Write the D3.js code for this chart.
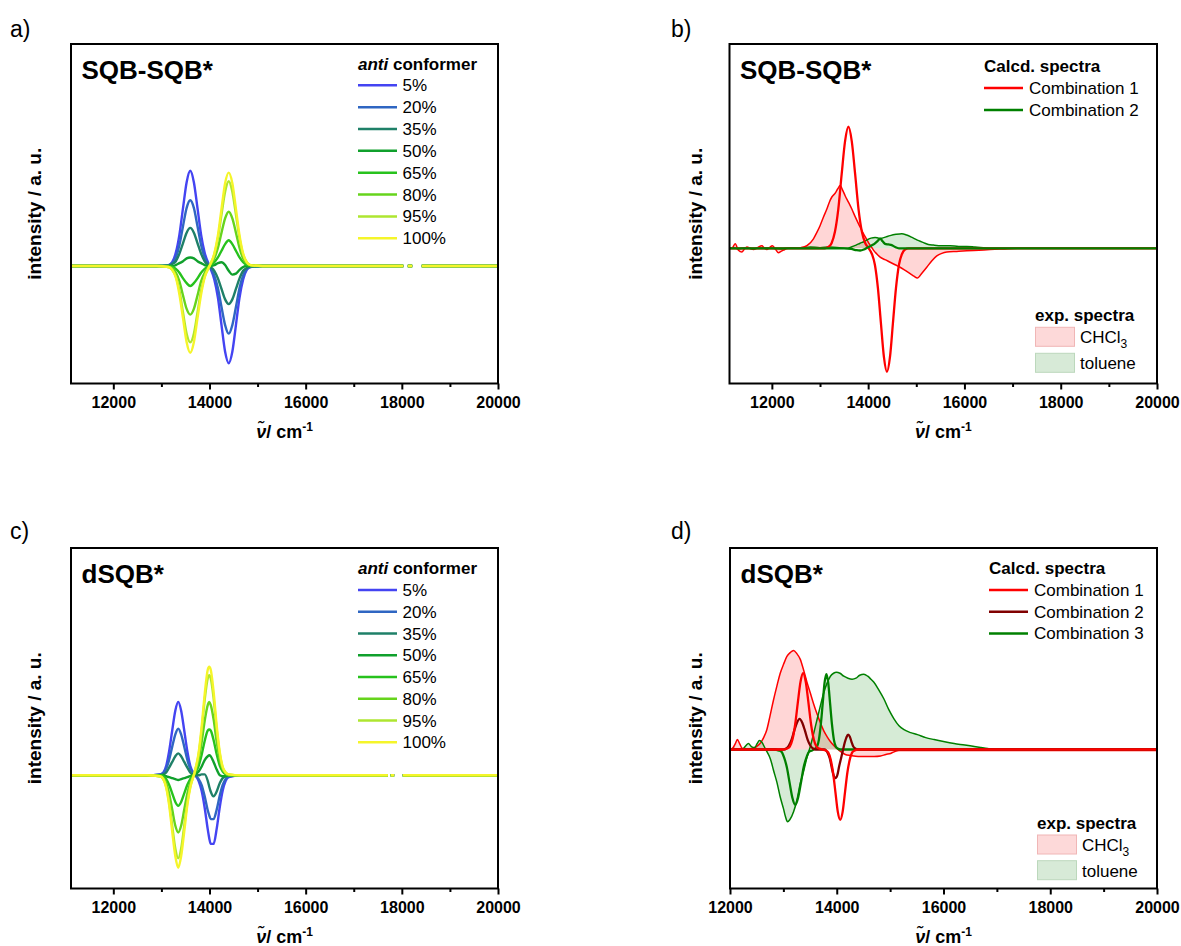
<!DOCTYPE html>
<html>
<head>
<meta charset="utf-8">
<script src="https://cdn.jsdelivr.net/npm/d3@7"></script>
<style>
  body { margin: 0; background: #fff; }
  svg { display: block; }
  text { font-family: "Liberation Sans", Arial, Helvetica, sans-serif; fill: #000; }
</style>
</head>
<body>
<svg id="fig" width="1181" height="946"></svg>
<script>
// ---------- shared axis ticks ----------
const xMajorTicks = [12000, 14000, 16000, 18000, 20000];
const xMinorTicks = [13000, 15000, 17000, 19000];

// ---------- conformer mixtures ----------
const conformerLabels = ["5%", "20%", "35%", "50%", "65%", "80%", "95%", "100%"];
const conformerColors = ["#4444f2", "#2f66c2", "#1f8068", "#10a02c", "#27c21d", "#66d41c", "#aee630", "#f5f52a"];

// SQB-SQB* simulated spectra (null = no data)
const nuSQB = [11120, 12900, 13150, 13225, 13300, 13375, 13450, 13525, 13600, 13675, 13750, 13825, 13900, 14000,
  14100, 14175, 14250, 14325, 14400, 14475, 14550, 14625, 14700, 14775, 14850, 15100, 18030, 18080, 18125, 18215, 18300, 18415, 20000];
const sqb05 = [0, 0, 0.01, 0.04, 0.14, 0.33, 0.61, 0.88, 1.00, 0.88, 0.61, 0.33, 0.14, 0.00, -0.14, -0.33, -0.62, -0.90, -1.02, -0.90, -0.62, -0.33, -0.14, -0.04, -0.01, 0, 0, null, 0, 0, null, 0, 0];
const sqb20 = [0, 0, 0.01, 0.03, 0.09, 0.22, 0.42, 0.61, 0.69, 0.61, 0.42, 0.22, 0.09, 0.00, -0.10, -0.23, -0.43, -0.62, -0.71, -0.62, -0.43, -0.23, -0.10, -0.03, -0.01, 0, 0, null, 0, 0, null, 0, 0];
const sqb35 = [0, 0, 0.00, 0.02, 0.05, 0.13, 0.24, 0.35, 0.40, 0.35, 0.24, 0.13, 0.05, 0.00, -0.05, -0.13, -0.24, -0.35, -0.40, -0.35, -0.24, -0.13, -0.05, -0.02, 0.00, 0, 0, null, 0, 0, null, 0, 0];
const sqb50 = [0, 0, 0.00, 0.00, 0.01, 0.03, 0.05, 0.08, 0.09, 0.08, 0.05, 0.03, 0.01, 0.00, 0.01, 0.03, 0.04, 0.01, -0.05, -0.09, -0.08, -0.04, -0.01, 0.00, 0.00, 0, 0, null, 0, 0, null, 0, 0];
const sqb65 = [0, 0, 0.00, -0.01, -0.03, -0.07, -0.13, -0.18, -0.21, -0.18, -0.13, -0.07, -0.03, 0.00, 0.04, 0.09, 0.16, 0.23, 0.27, 0.23, 0.16, 0.09, 0.04, 0.01, 0.00, 0, 0, null, 0, 0, null, 0, 0];
const sqb80 = [0, 0, -0.01, -0.02, -0.07, -0.16, -0.31, -0.45, -0.51, -0.45, -0.31, -0.16, -0.07, 0.00, 0.08, 0.19, 0.35, 0.50, 0.57, 0.50, 0.35, 0.19, 0.08, 0.03, 0.01, 0, 0, null, 0, 0, null, 0, 0];
const sqb95 = [0, 0, -0.01, -0.04, -0.11, -0.26, -0.49, -0.71, -0.80, -0.71, -0.49, -0.26, -0.11, 0.00, 0.12, 0.29, 0.54, 0.78, 0.89, 0.78, 0.54, 0.29, 0.12, 0.04, 0.01, 0, 0, null, 0, 0, null, 0, 0];
const sqb100 = [0, 0, -0.01, -0.04, -0.12, -0.30, -0.55, -0.80, -0.91, -0.80, -0.55, -0.30, -0.12, 0.00, 0.13, 0.32, 0.60, 0.87, 0.98, 0.87, 0.60, 0.32, 0.13, 0.04, 0.01, 0, 0, null, 0, 0, null, 0, 0];

// dSQB* simulated spectra
const nuDSQB = [11120, 12700, 12975, 13040, 13100, 13160, 13225, 13290, 13350, 13410, 13475, 13540, 13600, 13690,
  13775, 13835, 13900, 13965, 13995, 14025, 14085, 14150, 14215, 14275, 14335, 14400, 14650, 17710, 17740, 17770, 17840, 17930, 18020, 20000];
const dsqb05 = [0, 0, 0.01, 0.03, 0.10, 0.25, 0.47, 0.68, 0.77, 0.68, 0.47, 0.25, 0.10, 0.01, -0.06, -0.16, -0.34, -0.57, -0.66, -0.72, -0.72, -0.56, -0.33, -0.16, -0.06, -0.02, 0, 0, null, 0, 0, null, 0, 0];
const dsqb20 = [0, 0, 0.01, 0.02, 0.07, 0.16, 0.30, 0.43, 0.49, 0.43, 0.30, 0.16, 0.07, 0.01, -0.04, -0.10, -0.22, -0.37, -0.42, -0.46, -0.46, -0.36, -0.21, -0.10, -0.04, -0.01, 0, 0, null, 0, 0, null, 0, 0];
const dsqb35 = [0, 0, 0.00, 0.01, 0.03, 0.08, 0.14, 0.20, 0.23, 0.20, 0.14, 0.08, 0.03, 0.00, 0.00, 0.01, 0.01, -0.06, -0.12, -0.17, -0.22, -0.17, -0.08, -0.03, -0.01, 0.00, 0, 0, null, 0, 0, null, 0, 0];
const dsqb50 = [0, 0, 0.00, 0.00, -0.01, -0.02, -0.03, -0.04, -0.05, -0.04, -0.03, -0.02, -0.01, 0.01, 0.04, 0.09, 0.16, 0.20, 0.21, 0.20, 0.14, 0.06, 0.00, -0.01, -0.01, 0.00, 0, 0, null, 0, 0, null, 0, 0];
const dsqb65 = [0, 0, 0.00, -0.01, -0.04, -0.10, -0.19, -0.28, -0.32, -0.28, -0.19, -0.10, -0.04, 0.02, 0.10, 0.21, 0.36, 0.47, 0.48, 0.47, 0.37, 0.22, 0.10, 0.04, 0.01, 0.00, 0, 0, null, 0, 0, null, 0, 0];
const dsqb80 = [0, 0, -0.01, -0.03, -0.08, -0.19, -0.36, -0.53, -0.60, -0.53, -0.36, -0.19, -0.08, 0.02, 0.16, 0.34, 0.57, 0.74, 0.77, 0.74, 0.59, 0.35, 0.16, 0.06, 0.02, 0.00, 0, 0, null, 0, 0, null, 0, 0];
const dsqb95 = [0, 0, -0.01, -0.04, -0.12, -0.28, -0.53, -0.77, -0.87, -0.77, -0.53, -0.28, -0.12, 0.03, 0.22, 0.46, 0.79, 1.02, 1.05, 1.02, 0.81, 0.48, 0.22, 0.08, 0.03, 0.01, 0, 0, null, 0, 0, null, 0, 0];
const dsqb100 = [0, 0, -0.01, -0.04, -0.13, -0.31, -0.59, -0.85, -0.97, -0.85, -0.59, -0.31, -0.13, 0.03, 0.24, 0.50, 0.85, 1.11, 1.14, 1.11, 0.88, 0.52, 0.24, 0.09, 0.03, 0.01, 0, 0, null, 0, 0, null, 0, 0];

// ---------- SQB-SQB*: experimental and calculated ----------
const expChcl3SQB = [[11120,0],[11169,0],[11238,0.07],[11306,-0.03],[11377,-0.06],[11430,-0.01],[11481,0.02],[11550,0.0],
  [11618,-0.02],[11700,0.01],[11792,0.04],[11850,0.0],[11896,-0.02],[11950,0.01],[12012,0.04],[12080,-0.02],[12137,-0.07],
  [12190,-0.05],[12241,-0.03],[12340,0.0],[12449,0.0],[12600,0.01],[12727,0.04],[12864,0.15],[12935,0.25],[13003,0.36],
  [13070,0.49],[13142,0.62],[13200,0.74],[13246,0.81],[13314,0.87],[13370,0.94],[13418,0.99],[13470,0.92],[13522,0.83],
  [13590,0.73],[13661,0.62],[13730,0.50],[13798,0.39],[13850,0.31],[13902,0.23],[13955,0.16],[14006,0.09],[14060,0.03],
  [14110,-0.03],[14180,-0.09],[14249,-0.14],[14350,-0.18],[14457,-0.22],[14560,-0.26],[14664,-0.30],[14770,-0.35],
  [14872,-0.40],[14950,-0.44],[15023,-0.47],[15120,-0.39],[15218,-0.30],[15320,-0.20],[15426,-0.12],[15530,-0.08],
  [15634,-0.06],[15840,-0.05],[16049,-0.04],[16300,-0.03],[16533,-0.02],[16800,-0.01],[17100,0],[20000,0]];
const expTolueneSQB = [[11120,0],[11200,0.01],[11300,-0.01],[11450,0.01],[11600,-0.01],[11800,0.01],[12000,0.0],
  [12200,-0.01],[12400,0.01],[12600,0.0],[12800,0.02],[13000,0.01],[13200,0.02],[13400,0.01],[13550,0.0],[13650,0.02],
  [13750,0.05],[13833,0.08],[13900,0.10],[13972,0.13],[14060,0.16],[14145,0.17],[14220,0.16],[14284,0.16],[14370,0.18],
  [14457,0.20],[14580,0.22],[14699,0.23],[14800,0.21],[14941,0.16],[15050,0.12],[15148,0.09],[15250,0.06],[15356,0.05],
  [15530,0.04],[15702,0.04],[15880,0.03],[16049,0.03],[16220,0.02],[16394,0.01],[16600,0.0],[20000,0]];
const calc1SQB = [[11120,0],[13100,0],[13170,0.02],[13240,0.08],[13310,0.26],[13380,0.62],[13450,1.17],[13520,1.69],
  [13590,1.92],[13660,1.69],[13730,1.17],[13800,0.62],[13870,0.26],[13940,0.08],[14012,0],[14078,-0.09],[14140,-0.26],
  [14203,-0.63],[14265,-1.18],[14328,-1.72],[14390,-1.95],[14453,-1.72],[14515,-1.18],[14578,-0.63],[14640,-0.26],
  [14703,-0.09],[14765,-0.02],[14840,0],[20000,0]];
const calc2SQB = [[11120,0],[13500,0],[13650,-0.01],[13760,-0.03],[13833,-0.035],[13910,-0.02],[13980,0.01],[14060,0.04],
  [14130,0.07],[14190,0.11],[14249,0.15],[14300,0.11],[14350,0.07],[14420,0.06],[14490,0.05],[14560,0.02],[14640,0.0],[20000,0]];

// ---------- dSQB*: experimental and calculated ----------
const expChcl3DSQB = [[12000,0.0],[12060,0.02],[12100,0.06],[12138,0.10],[12180,0.06],[12230,0.01],[12300,0.0],[12400,0.01],
  [12500,0.03],[12564,0.06],[12630,0.12],[12690,0.20],[12750,0.34],[12815,0.50],[12878,0.64],[12941,0.77],[13003,0.86],
  [13066,0.94],[13130,0.98],[13191,1.0],[13250,0.97],[13317,0.91],[13380,0.80],[13442,0.68],[13505,0.57],[13567,0.46],
  [13630,0.36],[13693,0.27],[13755,0.19],[13818,0.13],[13880,0.08],[13944,0.04],[14006,0.01],[14069,-0.02],[14160,-0.05],
  [14257,-0.06],[14400,-0.07],[14571,-0.07],[14700,-0.07],[14822,-0.065],[14920,-0.05],[15010,-0.04],[15090,-0.02],
  [15166,-0.01],[15300,-0.01],[20000,-0.01]];
const expTolueneDSQB = [[12000,0.0],[12080,0.01],[12150,0.0],[12250,0.01],[12300,0.04],[12345,0.06],[12400,0.03],[12460,0.02],
  [12510,0.06],[12552,0.09],[12600,0.07],[12650,0.02],[12700,-0.03],[12760,-0.10],[12815,-0.21],[12878,-0.33],[12941,-0.48],
  [13003,-0.60],[13040,-0.68],[13078,-0.73],[13120,-0.71],[13191,-0.63],[13254,-0.51],[13317,-0.34],[13379,-0.22],
  [13442,-0.08],[13505,0.03],[13567,0.16],[13630,0.30],[13693,0.44],[13755,0.57],[13818,0.67],[13881,0.74],[13940,0.77],
  [13994,0.78],[14060,0.77],[14132,0.74],[14210,0.72],[14288,0.71],[14360,0.72],[14430,0.75],[14508,0.76],[14580,0.74],
  [14640,0.71],[14696,0.68],[14790,0.60],[14884,0.51],[14978,0.40],[15072,0.31],[15166,0.24],[15260,0.20],[15385,0.17],
  [15511,0.15],[15667,0.12],[15824,0.10],[16000,0.08],[16200,0.06],[16400,0.045],[16577,0.03],[16700,0.02],[16828,0.01],
  [17000,0.0],[20000,0.0]];
const calc1DSQB = [[12000,0],[13000,0],[13070,0.01],[13120,0.03],[13170,0.10],[13220,0.25],[13270,0.47],[13320,0.68],
  [13370,0.77],[13420,0.68],[13470,0.47],[13520,0.25],[13570,0.10],[13620,0.03],[13670,0.01],[13730,0],[13795,-0.01],
  [13840,-0.03],[13885,-0.10],[13930,-0.23],[13975,-0.43],[14020,-0.63],[14065,-0.71],[14110,-0.63],[14155,-0.43],
  [14200,-0.23],[14245,-0.10],[14290,-0.03],[14335,-0.01],[14400,0],[20000,0]];
const calc2DSQB = [[12000,0],[12950,0],[13004,0.00],[13054,0.01],[13104,0.04],[13154,0.10],[13204,0.19],[13254,0.27],
  [13304,0.31],[13354,0.27],[13404,0.19],[13454,0.10],[13504,0.04],[13554,0.01],[13604,0.00],[13765,0.00],[13800,-0.01],
  [13835,-0.04],[13870,-0.09],[13905,-0.18],[13940,-0.26],[13975,-0.29],[14010,-0.26],[14045,-0.17],[14080,-0.09],
  [14115,-0.01],[14150,0.07],[14180,0.12],[14213,0.15],[14245,0.13],[14275,0.08],[14310,0.03],[14345,0.01],[14380,0],[20000,0]];
const calc3DSQB = [[12000,0],[12850,0],[12908,-0.01],[12960,-0.02],[13013,-0.08],[13065,-0.18],[13118,-0.34],[13170,-0.49],
  [13223,-0.56],[13275,-0.49],[13328,-0.34],[13380,-0.18],[13433,-0.08],[13485,-0.02],[13538,-0.01],[13596,0.01],
  [13631,0.03],[13666,0.10],[13701,0.25],[13736,0.46],[13771,0.67],[13806,0.76],[13841,0.67],[13876,0.46],[13911,0.25],
  [13946,0.10],[13981,0.03],[14016,0.01],[14070,0],[20000,0]];

// ---------- drawing ----------
const svg = d3.select("#fig");
const RED = "#ff0000", MAROON = "#800000", GREEN = "#008000";
const PINK_FILL = "rgba(255,0,0,0.16)", GREEN_FILL = "rgba(0,128,0,0.16)";
let clipCount = 0;

function makePanel(p) {
  const g = svg.append("g");
  const x = d3.scaleLinear().domain(p.xDomain).range([p.left, p.right]);
  const y = d3.scaleLinear().domain(p.yDomain).range([p.bottom, p.top]);
  const id = "clip" + (clipCount++);
  g.append("clipPath").attr("id", id).append("rect")
    .attr("x", p.left).attr("y", p.top).attr("width", p.right - p.left).attr("height", p.bottom - p.top);
  const plot = g.append("g").attr("clip-path", `url(#${id})`);

  // x axis: labelled major ticks and unlabelled minor ticks, pointing outward
  const major = g.append("g").attr("transform", `translate(0,${p.bottom})`)
    .call(d3.axisBottom(x).tickValues(xMajorTicks).tickSize(6).tickPadding(7).tickFormat(d3.format("d")));
  const minor = g.append("g").attr("transform", `translate(0,${p.bottom})`)
    .call(d3.axisBottom(x).tickValues(xMinorTicks).tickSize(3.5).tickFormat(""));
  [major, minor].forEach(a => {
    a.select(".domain").remove();
    a.selectAll(".tick line").attr("stroke", "#000").attr("stroke-width", 2);
  });
  major.selectAll(".tick text").attr("font-family", '"Liberation Sans", Arial, sans-serif')
    .attr("font-size", 16).attr("font-weight", "bold").attr("fill", "#000");

  // axis titles
  const cx = (p.left + p.right) / 2, cy = (p.top + p.bottom) / 2;
  g.append("text").attr("transform", `translate(${p.left - p.yTitleOffset},${cy}) rotate(-90)`)
    .attr("text-anchor", "middle").attr("dy", "0.25em")
    .attr("font-size", 19).attr("font-weight", "bold").text("intensity / a. u.");
  const xt = g.append("text").attr("x", cx).attr("y", p.bottom + 54).attr("text-anchor", "middle")
    .attr("font-size", 18).attr("font-weight", "bold");
  xt.append("tspan").attr("font-style", "italic").text("\u03BD\u0303");
  xt.append("tspan").text("/ cm");
  xt.append("tspan").attr("dy", -7).attr("font-size", 12).text("-1");

  // panel letter and compound label
  svg.append("text").attr("x", p.letterX).attr("y", p.letterY)
    .attr("font-family", '"Open Sans", "Noto Sans", sans-serif').attr("font-size", 23).text(p.letter);
  g.append("text").attr("x", p.left + 10.5).attr("y", p.top + 34.5)
    .attr("font-size", 26).attr("font-weight", "bold").text(p.title);

  return { g, plot, x, y, p };
}

function drawFrame(P) {
  const p = P.p;
  P.g.append("rect").attr("x", p.left).attr("y", p.top)
    .attr("width", p.right - p.left).attr("height", p.bottom - p.top)
    .attr("fill", "none").attr("stroke", "#000").attr("stroke-width", 2);
}

function drawConformers(P, nu, series) {
  const line = d3.line()
    .defined(d => d[1] !== null)
    .x(d => P.x(d[0])).y(d => P.y(d[1]))
    .curve(d3.curveMonotoneX);
  series.forEach((vals, i) => {
    P.plot.append("path").datum(nu.map((n, k) => [n, vals[k]]))
      .attr("d", line).attr("fill", "none")
      .attr("stroke", conformerColors[i]).attr("stroke-width", 2.4);
  });
}

function conformerLegend(P, lx, titleBase, firstCenter, step) {
  const t = P.g.append("text").attr("x", lx).attr("y", titleBase).attr("font-size", 17).attr("font-weight", "bold");
  t.append("tspan").attr("font-style", "italic").text("anti");
  t.append("tspan").text(" conformer");
  conformerLabels.forEach((lab, i) => {
    const cy = firstCenter + i * step;
    P.g.append("line").attr("x1", lx).attr("x2", lx + 39).attr("y1", cy).attr("y2", cy)
      .attr("stroke", conformerColors[i]).attr("stroke-width", 2.5);
    P.g.append("text").attr("x", lx + 44.5).attr("y", cy + 6).attr("font-size", 17).text(lab);
  });
}

function drawExp(P, data, fill, stroke) {
  const area = d3.area().x(d => P.x(d[0])).y0(P.y(0)).y1(d => P.y(d[1])).curve(d3.curveMonotoneX);
  const line = d3.line().x(d => P.x(d[0])).y(d => P.y(d[1])).curve(d3.curveMonotoneX);
  P.plot.append("path").datum(data).attr("d", area).attr("fill", fill).attr("stroke", "none");
  return () => P.plot.append("path").datum(data).attr("d", line)
    .attr("fill", "none").attr("stroke", stroke).attr("stroke-width", 1.5);
}

function drawCalc(P, data, color) {
  const line = d3.line().x(d => P.x(d[0])).y(d => P.y(d[1])).curve(d3.curveMonotoneX);
  P.plot.append("path").datum(data).attr("d", line)
    .attr("fill", "none").attr("stroke", color).attr("stroke-width", 2.3);
}

function calcLegend(P, lx, titleCenter, step, names, colors) {
  P.g.append("text").attr("x", lx).attr("y", titleCenter + 6).attr("font-size", 17).attr("font-weight", "bold").text("Calcd. spectra");
  names.forEach((n, i) => {
    const cy = titleCenter + (i + 1) * step;
    P.g.append("line").attr("x1", lx).attr("x2", lx + 39).attr("y1", cy).attr("y2", cy)
      .attr("stroke", colors[i]).attr("stroke-width", 2.5);
    P.g.append("text").attr("x", lx + 45).attr("y", cy + 6).attr("font-size", 17).text(n);
  });
}

function expLegend(P, lx, titleCenter, sw1Top, sw2Top) {
  P.g.append("text").attr("x", lx).attr("y", titleCenter + 6).attr("font-size", 17).attr("font-weight", "bold").text("exp. spectra");
  const swatches = [
    { top: sw1Top, fill: "#fdd9d9", stroke: "#f0b6b6" },
    { top: sw2Top, fill: "#d7ead7", stroke: "#bcd8bc" }
  ];
  swatches.forEach(s => {
    P.g.append("rect").attr("x", lx + 0.5).attr("y", s.top).attr("width", 39).attr("height", 19)
      .attr("fill", s.fill).attr("stroke", s.stroke).attr("stroke-width", 1);
  });
  const t1 = P.g.append("text").attr("x", lx + 45).attr("y", sw1Top + 16).attr("font-size", 17);
  t1.append("tspan").text("CHCl");
  t1.append("tspan").attr("dy", 5).attr("font-size", 12).text("3");
  P.g.append("text").attr("x", lx + 45).attr("y", sw2Top + 16).attr("font-size", 17).text("toluene");
}

// ---- panel a ----
const A = makePanel({ left: 71, right: 498, top: 44, bottom: 383.5, xDomain: [11120, 20000], yDomain: [-1.233, 2.33],
  letter: "a)", letterX: 10, letterY: 37, title: "SQB-SQB*", yTitleOffset: 34.5 });
drawConformers(A, nuSQB, [sqb05, sqb20, sqb35, sqb50, sqb65, sqb80, sqb95, sqb100]);
conformerLegend(A, 358, 70, 85.3, 21.85);
drawFrame(A);

// ---- panel b ----
const B = makePanel({ left: 729.5, right: 1157, top: 44, bottom: 383.5, xDomain: [11120, 20000], yDomain: [-2.136, 3.227],
  letter: "b)", letterX: 671, letterY: 37, title: "SQB-SQB*", yTitleOffset: 32.5 });
const bOut1 = drawExp(B, expChcl3SQB, PINK_FILL, RED);
const bOut2 = drawExp(B, expTolueneSQB, GREEN_FILL, GREEN);
bOut1(); bOut2();
drawCalc(B, calc1SQB, RED);
drawCalc(B, calc2SQB, GREEN);
calcLegend(B, 984, 66, 22, ["Combination 1", "Combination 2"], [RED, GREEN]);
expLegend(B, 1035, 315, 327.3, 353.3);
drawFrame(B);

// ---- panel c ----
const C = makePanel({ left: 71, right: 498, top: 548, bottom: 888.5, xDomain: [11120, 20000], yDomain: [-1.188, 2.385],
  letter: "c)", letterX: 10, letterY: 539, title: "dSQB*", yTitleOffset: 34.5 });
drawConformers(C, nuDSQB, [dsqb05, dsqb20, dsqb35, dsqb50, dsqb65, dsqb80, dsqb95, dsqb100]);
conformerLegend(C, 358, 574.3, 590, 21.75);
drawFrame(C);

// ---- panel d ----
const D = makePanel({ left: 730, right: 1157, top: 548, bottom: 888.5, xDomain: [12000, 20000], yDomain: [-1.404, 2.035],
  letter: "d)", letterX: 671, letterY: 539, title: "dSQB*", yTitleOffset: 32.5 });
const dOut1 = drawExp(D, expChcl3DSQB, PINK_FILL, RED);
const dOut2 = drawExp(D, expTolueneDSQB, GREEN_FILL, GREEN);
dOut1(); dOut2();
drawCalc(D, calc3DSQB, GREEN);
drawCalc(D, calc2DSQB, MAROON);
drawCalc(D, calc1DSQB, RED);
calcLegend(D, 989, 568.3, 21.7, ["Combination 1", "Combination 2", "Combination 3"], [RED, MAROON, GREEN]);
expLegend(D, 1037, 823.3, 835, 860.7);
drawFrame(D);
</script>
</body>
</html>
